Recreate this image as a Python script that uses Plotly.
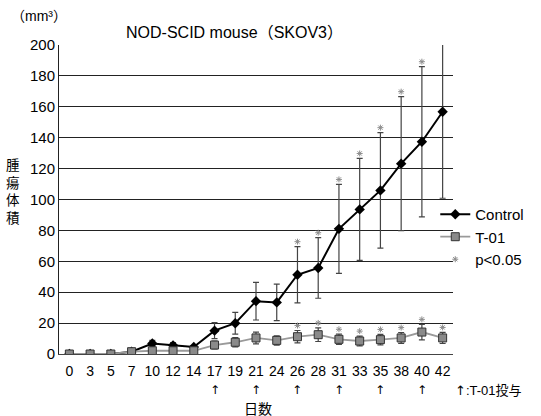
import plotly.graph_objects as go

days = ["0", "3", "5", "7", "10", "12", "14", "17", "19", "21", "24", "26", "28", "31", "33", "35", "38", "40", "42"]
control = [0, 0, 0, 1.5, 6.8, 5.6, 4.5, 15.1, 19.9, 34.2, 33.4, 51.3, 55.7, 81.0, 93.6, 105.9, 123.2, 137.4, 156.8]
control_err = [0, 0, 0, 0, 2.0, 1.8, 1.0, 5.2, 7.0, 12.2, 11.8, 18.2, 19.6, 28.8, 33.0, 37.4, 43.4, 48.6, 56.0]
t01 = [0, 0, 0, 1.5, 2.1, 2.1, 2.1, 5.8, 7.6, 10.4, 8.8, 11.2, 12.5, 9.5, 8.4, 9.3, 10.4, 14.2, 10.4]
t01_err = [0, 0, 0, 0, 0.5, 0.5, 0.5, 2.5, 3.0, 3.8, 3.0, 4.0, 4.4, 3.3, 3.2, 3.4, 3.5, 5.0, 3.6]
sig_days = ["26", "28", "31", "33", "35", "38", "40", "42"]
dose_days = ["17", "21", "26", "31", "35", "40"]
y_title = "腫<br>瘍<br>体<br>積"
y_max = 200

FONT = "Liberation Sans, Arial, Noto Sans CJK JP, sans-serif"
ARROW_FONT = "DejaVu Sans, Liberation Sans, sans-serif"

fig = go.Figure()

fig.add_trace(go.Scatter(
    x=days, y=control, name="Control", mode="lines+markers",
    line=dict(color="black", width=2),
    marker=dict(symbol="diamond", size=8, color="black"),
    error_y=dict(type="data", array=control_err, visible=True, color="#444444", thickness=1.2, width=3),
))
fig.add_trace(go.Scatter(
    x=days, y=t01, name="T-01", mode="lines+markers",
    line=dict(color="#9a9a9a", width=1.8),
    marker=dict(symbol="square", size=8, color="#8a8a8a", line=dict(color="#333333", width=1)),
    error_y=dict(type="data", array=t01_err, visible=True, color="#444444", thickness=1.2, width=3),
))

# significance asterisks above error bars
sx, sy = [], []
for d in sig_days:
    i = days.index(d)
    sx.append(d); sy.append(min(control[i] + control_err[i], y_max) + 3.2)
    sx.append(d); sy.append(t01[i] + t01_err[i] + 3.2)
fig.add_trace(go.Scatter(
    x=sx, y=sy, name="p<0.05", mode="markers", cliponaxis=False,
    marker=dict(symbol="asterisk-open", size=5, color="#8c8c8c", line=dict(color="#8c8c8c", width=1)),
))

annotations = []
for d in dose_days:
    annotations.append(dict(x=days.index(d), xref="x", y=-0.117, yref="paper", text="↑", showarrow=False,
                            font=dict(size=12, color="black", family=ARROW_FONT), yanchor="middle"))
annotations.append(dict(x=1.0, xref="paper", y=-0.117, yref="paper",
                        text="<span style=\"font-family:DejaVu Sans\">↑</span>:T-01投与", showarrow=False,
                        xanchor="left", yanchor="middle", font=dict(size=13, color="black", family=FONT)))
annotations.append(dict(x=0.505, xref="paper", y=-0.178, yref="paper", text="日数", showarrow=False,
                        xanchor="center", yanchor="middle", font=dict(size=14, color="black", family=FONT)))
annotations.append(dict(x=-0.117, xref="paper", y=(354 - 191.5) / 309, yref="paper", text=y_title,
                        showarrow=False, xanchor="center", yanchor="middle",
                        font=dict(size=13.5, color="black", family=FONT)))
annotations.append(dict(x=-0.051, xref="paper", y=1.094, yref="paper", text="（mm³）", showarrow=False,
                        xanchor="center", yanchor="middle", font=dict(size=14, color="black", family=FONT)))

fig.update_layout(
    width=541, height=416,
    margin=dict(l=59, r=85, t=45, b=62),
    paper_bgcolor="white", plot_bgcolor="white",
    font=dict(family=FONT, size=14, color="black"),
    title=dict(text="NOD-SCID mouse（SKOV3）", x=0.4455, xref="paper", xanchor="center",
               y=1 - 32 / 416, yanchor="middle", font=dict(size=16, color="black", family=FONT)),
    showlegend=True,
    legend=dict(x=0.955, xanchor="left", y=0.505, yanchor="top", bgcolor="rgba(0,0,0,0)",
                font=dict(size=15, color="black", family=FONT), itemwidth=30, tracegroupgap=0),
    annotations=annotations,
)
fig.update_xaxes(type="category", categoryorder="array", categoryarray=days,
                 range=[-0.5, len(days) - 0.5], tickmode="array", tickvals=days, ticktext=days,
                 showgrid=False, showline=True, linecolor="#444444", linewidth=1,
                 ticks="", ticklabelstandoff=4, tickfont=dict(size=14, family=FONT), zeroline=False)
fig.update_yaxes(range=[0, y_max], dtick=20, showgrid=True, gridcolor="#222222", gridwidth=1,
                 showline=True, linecolor="#222222", linewidth=1, ticks="", zeroline=False,
                 tickfont=dict(size=15, family=FONT))

fig.write_html("out.html")
